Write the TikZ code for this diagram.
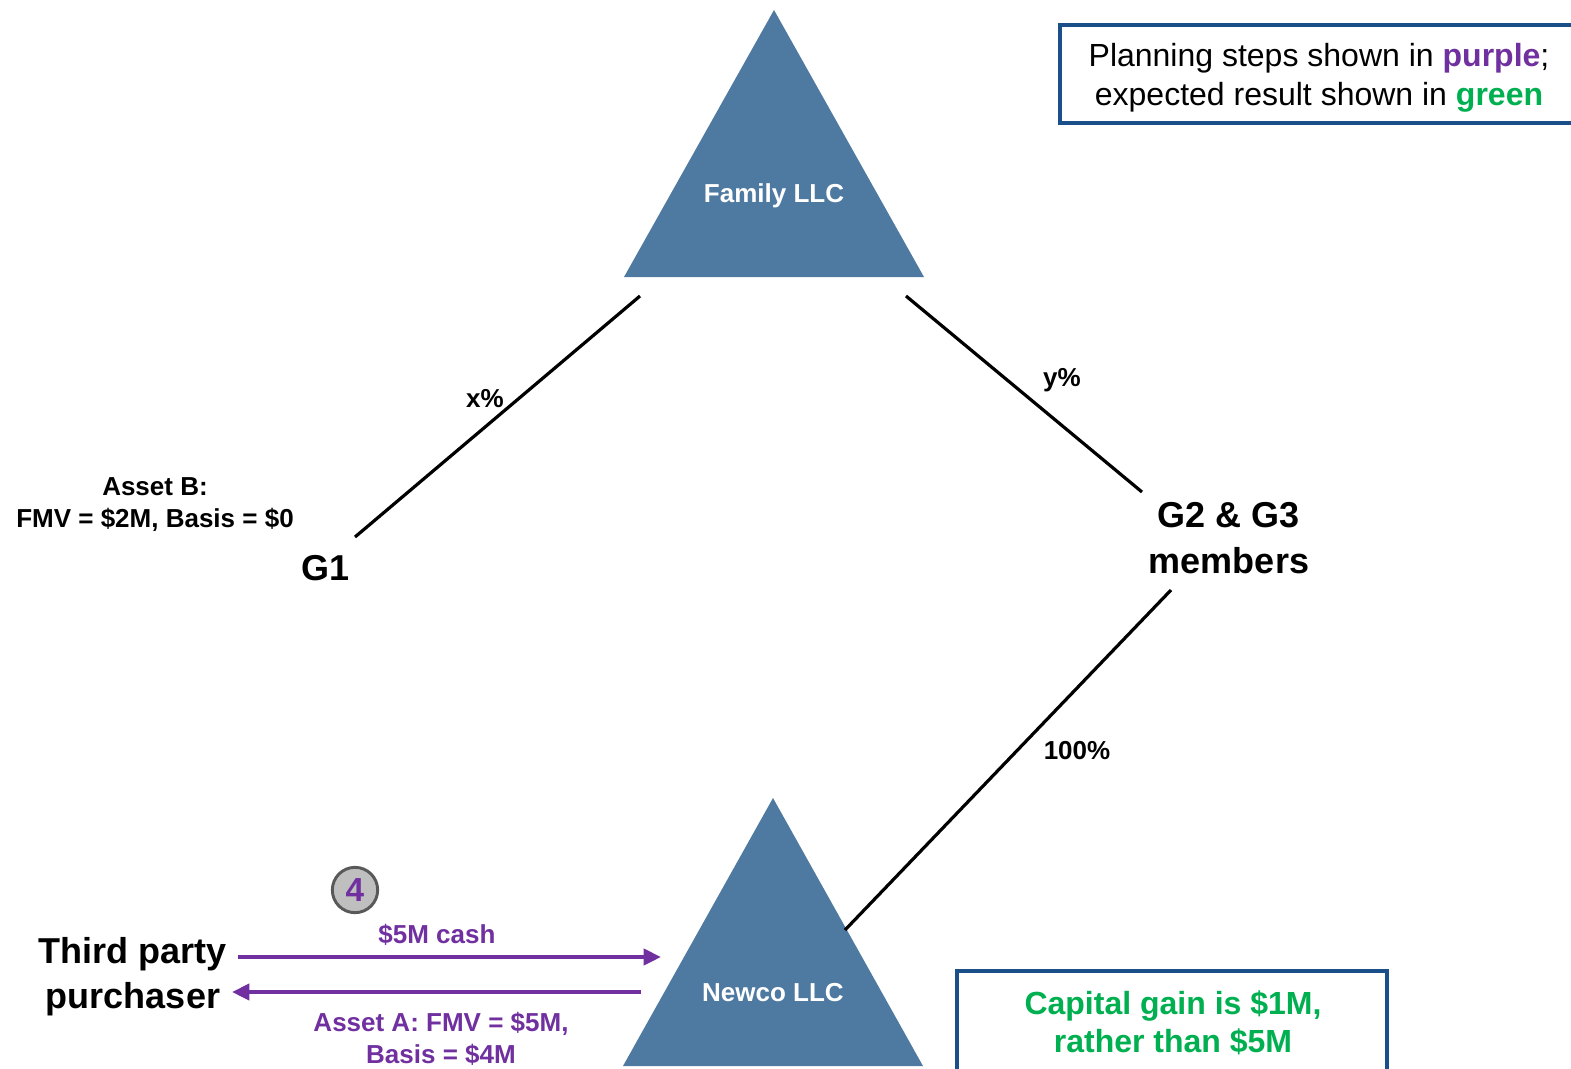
\documentclass[tikz,border=0pt]{standalone}
\usepackage{fontspec}
\setmainfont{Liberation Sans}
\usetikzlibrary{arrows.meta}
\definecolor{entityblue}{HTML}{4E79A0}
\definecolor{stepsviolet}{HTML}{7030A0}
\definecolor{resultgreen}{HTML}{00B050}
\definecolor{frameblue}{HTML}{1B4F8A}
\definecolor{badgegray}{HTML}{BFBFBF}
\definecolor{badgeedge}{HTML}{595959}
\begin{document}
\begin{tikzpicture}[x=0.75pt,y=-0.75pt,
  entity/.style={fill=entityblue,draw=none},
  entitylabel/.style={text=white,font=\bfseries\fontsize{19.5}{23}\selectfont,inner sep=0pt},
  party/.style={font=\bfseries\fontsize{27}{34}\selectfont,align=center,inner sep=0pt},
  small/.style={font=\bfseries\fontsize{19.5}{24}\selectfont,align=center,inner sep=0pt},
  steptext/.style={small,text=stepsviolet},
  owner/.style={line width=2.4pt,black},
  flow/.style={line width=3pt,stepsviolet,-{Triangle[length=13pt,width=12pt]}},
  framebox/.style={draw=frameblue,line width=2.4pt,fill=white}
]
\useasboundingbox (0,0) rectangle (1571,1068);
\clip (0,0) rectangle (1571,1068);

% entities
\fill[entity] (774,10) -- (924,277) -- (624,277) -- cycle;
\node[entitylabel] (family) at (774,196) {Family LLC};
\fill[entity] (773,798) -- (923,1066) -- (623,1066) -- cycle;
\node[entitylabel] (newco) at (773,993) {Newco LLC};

% owners and other parties
\node[party] (g1) at (326,568) {G1};
\node[party] (g23) at (1229,538) {G2 \& G3\\members};
\node[party] (buyer) at (133,977) {Third party\\purchaser};
\node[small] (assetb) at (155,505) {Asset B:\\FMV = \$2M, Basis = \$0};

% ownership links
\coordinate (famL) at (640,296);
\coordinate (famR) at (906,296);
\coordinate (g1end) at (355,537);
\coordinate (g23top) at (1142,492);
\coordinate (g23bot) at (1171,590);
\coordinate (newcoR) at (845,930);
\draw[owner] (famL) -- (g1end);
\draw[owner] (famR) -- (g23top);
\draw[owner] (g23bot) -- (newcoR);
\node[small] (xpct) at (485,399) {x\%};
\node[small] (ypct) at (1062,380) {y\%};
\node[small] (hpct) at (1077,751) {100\%};

% step 4: sale of Asset A
\coordinate (cashfrom) at (238,957);
\coordinate (cashto) at (661,957);
\coordinate (assetfrom) at (641,992);
\coordinate (assetto) at (232,992);
\draw[flow] (cashfrom) -- (cashto);
\draw[flow] (assetfrom) -- (assetto);
\node[steptext] (cash) at (437,935) {\$5M cash};
\node[steptext] (asseta) at (441,1039) {Asset A: FMV = \$5M,\\Basis = \$4M};
\node[circle,fill=badgegray,draw=badgeedge,line width=2.2pt,minimum size=34pt,inner sep=0pt,
      text=stepsviolet,font=\bfseries\fontsize{25}{25}\selectfont] (badge) at (355,890) {4};

% legend
\draw[framebox] (1060,25) rectangle (1590,123);
\node[font=\fontsize{24}{29}\selectfont,align=center,inner sep=0pt] (legend) at (1319,77.5)
  {Planning steps shown in \textcolor{stepsviolet}{\bfseries purple};\\
   expected result shown in \textcolor{resultgreen}{\bfseries green}};

% result
\draw[framebox] (957,971) rectangle (1387,1090);
\node[font=\bfseries\fontsize{24}{28.5}\selectfont,text=resultgreen,align=center,inner sep=0pt] (result) at (1173,1023)
  {Capital gain is \$1M,\\rather than \$5M};
\end{tikzpicture}
\end{document}
